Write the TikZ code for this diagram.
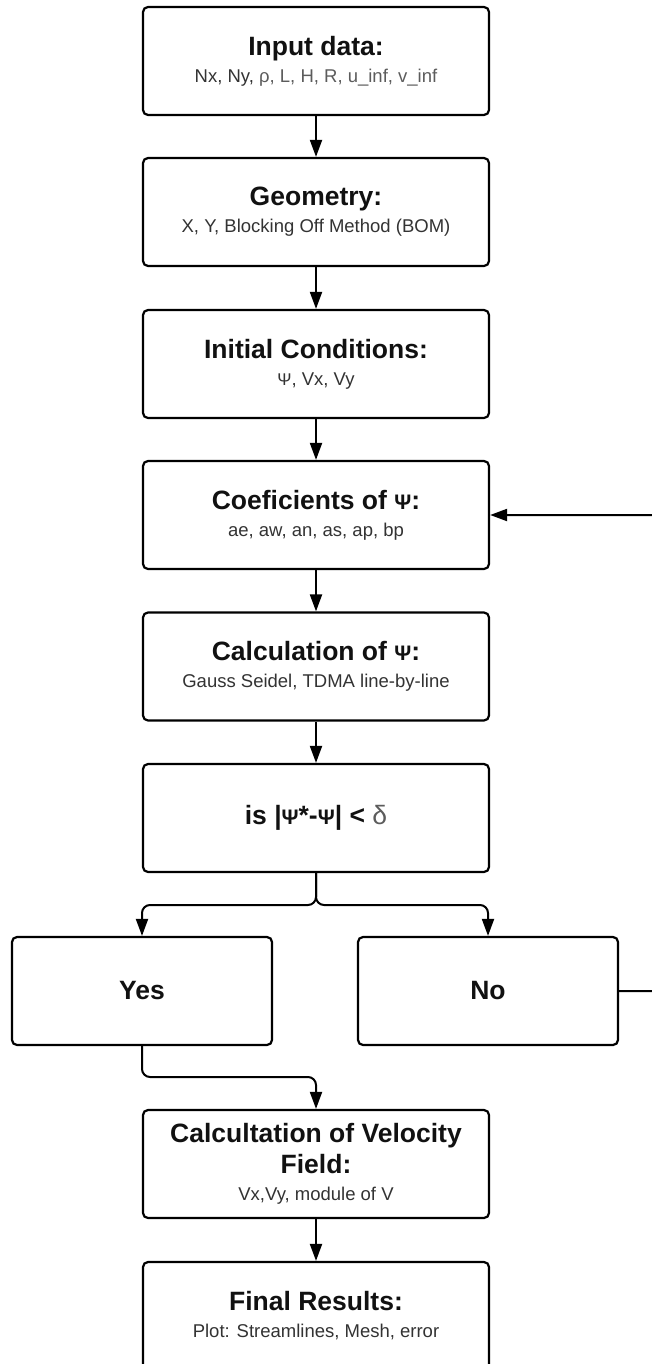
\documentclass[tikz,border=0pt]{standalone}
\usepackage{fontspec}
\setmainfont{Liberation Sans}
\usetikzlibrary{arrows.meta}
\definecolor{tcol}{HTML}{111111}
\definecolor{scol}{HTML}{333333}
\definecolor{lcol}{HTML}{5C5C5C}
\newcommand\boxtitle{\fontsize{26.5}{31}\selectfont\bfseries\color{tcol}}
\newcommand\boxsub{\fontsize{18.5}{27}\selectfont\mdseries\color{scol}}
\newcommand\psiT{{\fontsize{21}{21}\selectfont Ψ}}
\newcommand\psiS{{\fontsize{17}{17}\selectfont Ψ}}
\begin{document}
\begin{tikzpicture}[x=1pt,y=-1pt,
  stepbox/.style={draw=black, line width=2.2pt, rounded corners=5pt,
    minimum width=346pt, minimum height=108pt, align=center, inner sep=0pt,
    fill=white, font=\fontsize{18.5}{27}\selectfont},
  smallbox/.style={stepbox, minimum width=260pt},
  arr/.style={-{Triangle[width=12pt,length=17pt]}, line width=2pt},
  link/.style={line width=2pt, rounded corners=8pt}]
\useasboundingbox (0,0) rectangle (651,1364);

\node[stepbox] (inp) at (316,61) {{\boxtitle Input data:}\\{\boxsub Nx, Ny, \color{lcol}ρ, L, H, R, u\_inf, v\_inf}};
\node[stepbox] (geo) at (316,212) {{\boxtitle Geometry:}\\{\boxsub X, Y, Blocking Off Method (BOM)}};
\node[stepbox] (ini) at (316,364) {{\boxtitle Initial Conditions:}\\{\boxsub \psiS, Vx, Vy}};
\node[stepbox] (coef) at (316,515) {{\boxtitle Coeficients of \psiT:}\\{\boxsub ae, aw, an, as, ap, bp}};
\node[stepbox] (calc) at (316,666.5) {{\boxtitle Calculation of \psiT:}\\{\boxsub Gauss Seidel, TDMA line-by-line}};
\node[stepbox] (is) at (316,818) {{\boxtitle is |\psiT*-\psiT| < {\mdseries\color{lcol}δ}}};
\node[smallbox] (yes) at (142,991) {{\boxtitle Yes}};
\node[smallbox] (no) at (488,991) {{\boxtitle No}};
\node[stepbox] (vel) at (316,1164) {{\boxtitle Calcultation of Velocity}\\[4pt]{\boxtitle Field:}\\{\boxsub Vx,Vy, module of V}};
\node[stepbox] (fin) at (316,1316) {{\boxtitle Final Results:}\\{\boxsub Plot: Streamlines, Mesh, error}};

\draw[arr] (inp.south) -- (geo.north);
\draw[arr] (geo.south) -- (ini.north);
\draw[arr] (ini.south) -- (coef.north);
\draw[arr] (coef.south) -- (calc.north);
\draw[arr] (calc.south) -- (is.north);
\coordinate (split) at (316,905);
\draw[arr, link] (is.south) -- (split) -| (yes.north);
\draw[arr, link] (is.south) -- (split) -| (no.north);
\coordinate (join) at (142,1077);
\draw[arr, link] (yes.south) -- (join) -| (vel.north);
\draw[arr] (vel.south) -- (fin.north);
\coordinate (loop) at (665,991);
\draw[arr, link] (no.east) -- (loop) |- (coef.east);
\end{tikzpicture}
\end{document}
